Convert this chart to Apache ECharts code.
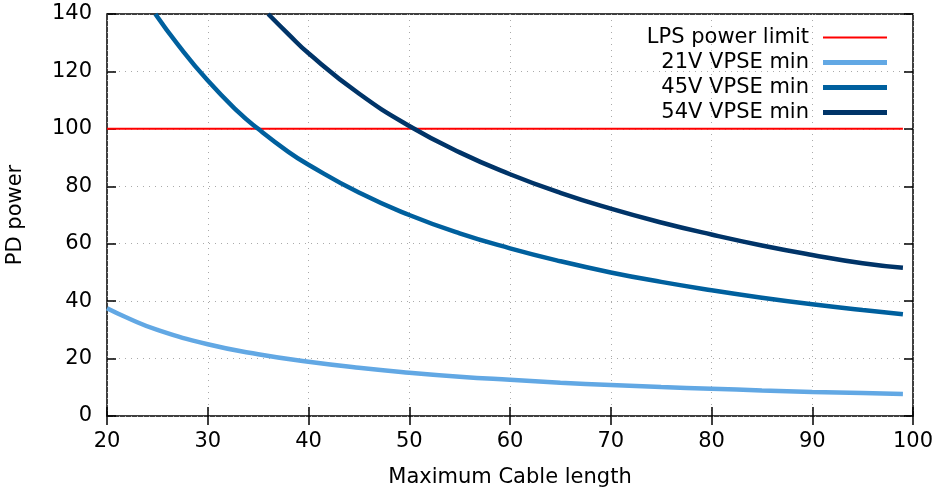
<!DOCTYPE html>
<html>
<head>
<meta charset="utf-8">
<script src="https://cdn.jsdelivr.net/npm/echarts@6/dist/echarts.min.js"></script>
<style>
html, body { margin: 0; padding: 0; background: #fff; }
#chart { width: 940px; height: 491px; }
</style>
</head>
<body>
<div id="chart"></div>
<script>
// values
var lpsLimit = [[20, 100], [99, 100]];
var vpse21 = [[20, 37.5], [22, 34.2], [25, 30], [30, 25], [35, 21.5], [40, 18.9], [45, 16.8], [50, 15.1], [55, 13.7], [60, 12.6], [65, 11.6], [70, 10.8], [75, 10.1], [80, 9.5], [85, 8.9], [90, 8.4], [95, 8], [99, 7.7]];
var vpse45 = [[24.8, 140], [27, 129.5], [30, 116.8], [33, 106], [35, 100], [38, 92], [40, 87.5], [45, 77.8], [50, 70], [55, 63.6], [60, 58.4], [65, 53.9], [70, 50], [75, 46.7], [80, 43.8], [85, 41.2], [90, 38.9], [95, 36.9], [99, 35.4]];
var vpse54 = [[36, 140], [38, 133], [40, 126.3], [45, 112.3], [50, 101], [55, 91.8], [60, 84.2], [65, 77.7], [70, 72.2], [75, 67.4], [80, 63.2], [85, 59.4], [90, 56.1], [95, 53.2], [99, 51.6]];
var seriesNames = ['LPS power limit', '21V VPSE min', '45V VPSE min', '54V VPSE min'];
var seriesColors = ['#ff0000', '#62a8e4', '#00609e', '#003468'];

(function () {
    var font = 'DejaVu Sans';
    var fs = 21;
    var myChart = echarts.init(document.getElementById('chart'));
    var grid = { left: 107, right: 27, top: 14, bottom: 75, outerBoundsMode: 'none', show: true, borderColor: '#000', borderWidth: 1.5, backgroundColor: 'transparent' };
    var tickIn = { show: true, inside: true, length: 9, lineStyle: { color: '#000', width: 1.5 } };
    var dotted = { show: true, lineStyle: { color: '#aaaaaa', type: [1, 5], width: 1 } };

    var makeLine = function (name, data, color, width) {
        return {
            name: name,
            type: 'line',
            data: data,
            smooth: true,
            showSymbol: false,
            symbol: 'none',
            clip: true,
            lineStyle: { color: color, width: width },
            itemStyle: { color: color }
        };
    };

    // thin bar for the red line, thick bar for the curves (same 64x5 box)
    var thinIcon = 'path://M0,0M64,5M0,1.5H64V3.5H0Z';
    var legendData = [];
    for (var i = 0; i < seriesNames.length; i++) {
        legendData.push({ name: seriesNames[i], icon: i === 0 ? thinIcon : 'rect', itemStyle: { color: seriesColors[i] } });
    }

    var option = {
        animation: false,
        textStyle: { fontFamily: font },
        grid: grid,
        legend: {
            right: 48,
            top: 20,
            orient: 'vertical',
            align: 'right',
            itemWidth: 64,
            itemHeight: 5,
            itemGap: 0,
            data: legendData,
            textStyle: { fontFamily: font, fontSize: fs, color: '#000', lineHeight: 25, padding: [0, 9, 0, 0] }
        },
        xAxis: [{
            type: 'value', min: 20, max: 100, interval: 10,
            name: 'Maximum Cable length', nameLocation: 'middle', nameGap: 51,
            nameTextStyle: { fontFamily: font, fontSize: fs, color: '#000' },
            axisLine: { show: false },
            axisTick: tickIn,
            axisLabel: { fontFamily: font, fontSize: fs, color: '#000', margin: 15 },
            splitLine: dotted
        }, {
            type: 'value', min: 20, max: 100, interval: 10, position: 'top',
            axisLine: { show: false }, axisTick: tickIn, axisLabel: { show: false }, splitLine: { show: false }
        }],
        yAxis: [{
            type: 'value', min: 0, max: 140, interval: 20,
            name: 'PD power', nameLocation: 'middle', nameGap: 81,
            nameTextStyle: { fontFamily: font, fontSize: fs, color: '#000' },
            axisLine: { show: false },
            axisTick: tickIn,
            axisLabel: { fontFamily: font, fontSize: fs, color: '#000', margin: 15 },
            splitLine: dotted
        }, {
            type: 'value', min: 0, max: 140, interval: 20, position: 'right',
            axisLine: { show: false }, axisTick: tickIn, axisLabel: { show: false }, splitLine: { show: false }
        }],
        series: [
            makeLine(seriesNames[0], lpsLimit, seriesColors[0], 2),
            makeLine(seriesNames[1], vpse21, seriesColors[1], 4.5),
            makeLine(seriesNames[2], vpse45, seriesColors[2], 4.5),
            makeLine(seriesNames[3], vpse54, seriesColors[3], 4.5)
        ]
    };
    myChart.setOption(option);
})();
</script>
</body>
</html>
